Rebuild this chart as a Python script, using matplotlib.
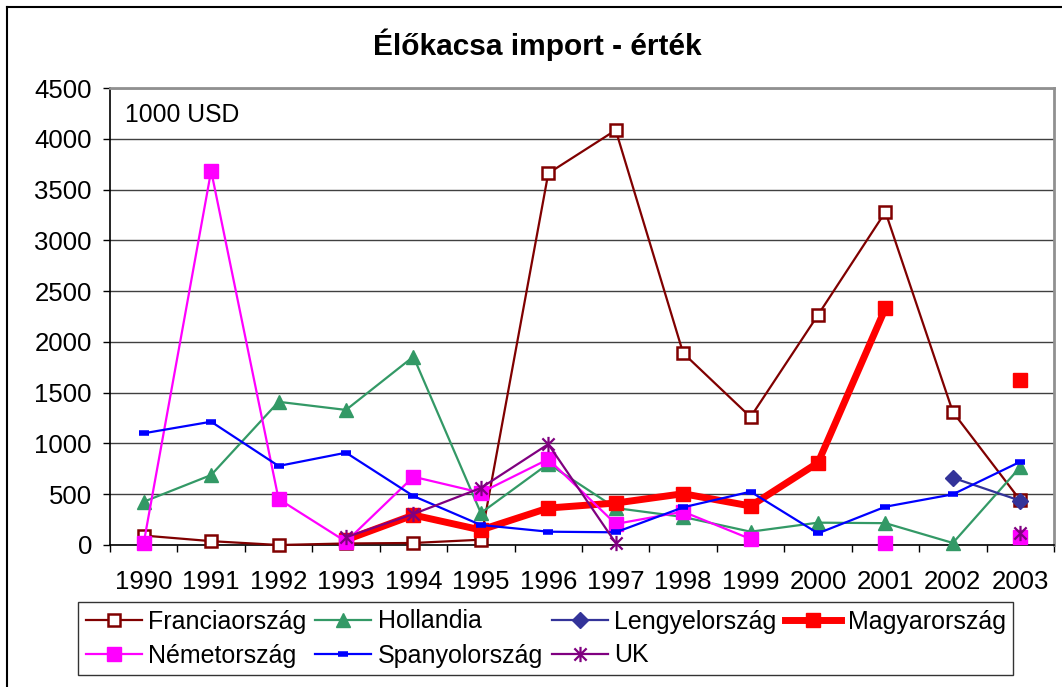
import matplotlib
matplotlib.use("Agg")
import matplotlib.pyplot as plt
import numpy as np
from matplotlib.path import Path
from matplotlib.lines import Line2D

plt.rcParams['font.family'] = ['Liberation Sans', 'DejaVu Sans']

nan = np.nan
years = ['1990', '1991', '1992', '1993', '1994', '1995', '1996',
         '1997', '1998', '1999', '2000', '2001', '2002', '2003']

# values in 1000 USD
francia = [93, 38, 0, 15, 20, 52, 3660, 4085, 1890, 1260, 2265, 3280, 1310, 440]
holland = [426, 689, 1410, 1330, 1855, 315, 800, 364, 276, 131, 220, 215, 20, 768]
lengyel = [nan, nan, nan, nan, nan, nan, nan, nan, nan, nan, nan, nan, 662, 436]
magyar = [nan, nan, nan, 50, 295, 148, 364, 413, 505, 384, 810, 2332, nan, 1624]
nemet = [20, 3684, 453, 33, 672, 515, 845, 207, 328, 59, nan, 15, nan, 78]
spanyol = [1100, 1214, 778, 909, 482, 197, 131, 125, 371, 525, 115, 377, 499, 820]
uk = [nan, nan, nan, 76, 305, 561, 993, 20, nan, nan, nan, nan, nan, 118]

x = np.arange(len(years))

# excel style asterisk: vertical line plus an X
star = Path([(0, -1), (0, 1), (-0.8, -0.8), (0.8, 0.8), (-0.8, 0.8), (0.8, -0.8)],
            [Path.MOVETO, Path.LINETO, Path.MOVETO, Path.LINETO, Path.MOVETO, Path.LINETO])

fig = plt.figure(figsize=(10.62, 6.87), dpi=100)
ax = fig.add_axes([110/1062, 1-545/687, 944/1062, 457/687])

# series drawn in excel order, later ones on top
h_fr, = ax.plot(x, francia, color='#800000', lw=1.6, marker='s', ms=9,
                mfc='white', mec='#800000', mew=1.8, label='Franciaország', zorder=3)
h_ho, = ax.plot(x, holland, color='#339966', lw=1.6, marker='^', ms=10,
                mec='#339966', mfc='#339966', label='Hollandia', zorder=4)
h_le, = ax.plot(x, lengyel, color='#333399', lw=1.6, marker='D', ms=8,
                mec='#333399', mfc='#333399', label='Lengyelország', zorder=5)
h_ma, = ax.plot(x, magyar, color='#FF0000', lw=5, marker='s', ms=10,
                mec='#FF0000', mfc='#FF0000', label='Magyarország', zorder=6)
h_ne, = ax.plot(x, nemet, color='#FF00FF', lw=1.6, marker='s', ms=10,
                mec='#FF00FF', mfc='#FF00FF', label='Németország', zorder=7)
h_sp, = ax.plot(x, spanyol, color='#0000FF', lw=1.6, marker='_', ms=7,
                mew=4, mec='#0000FF', label='Spanyolország', zorder=8)
h_uk, = ax.plot(x, uk, color='#800080', lw=1.6, marker=star, ms=11,
                mew=1.6, mec='#800080', mfc='none', label='UK', zorder=9)
for h in [h_fr, h_ho, h_le, h_ma, h_ne, h_sp, h_uk]:
    h.set_clip_on(False)

ax.set_xlim(-0.5, 13.5)
ax.set_ylim(0, 4500)
ax.set_yticks(np.arange(0, 4501, 500))
ax.yaxis.grid(True, color='#404040', lw=1)
ax.set_axisbelow(True)

ax.set_xticks(np.arange(-0.5, 14, 1))
ax.set_xticklabels([])
ax.set_xticks(x, minor=True)
ax.set_xticklabels(years, minor=True)
ax.tick_params(axis='x', which='major', direction='out', length=5, width=1)
ax.tick_params(axis='x', which='minor', length=0, pad=18, labelsize=18.5)
ax.tick_params(axis='y', direction='out', length=5, width=1, pad=8, labelsize=18.5)

for s in ['top', 'right']:
    ax.spines[s].set_color('#909090')
    ax.spines[s].set_linewidth(2)
for s in ['left', 'bottom']:
    ax.spines[s].set_color('black')
    ax.spines[s].set_linewidth(1.2)

ax.text(0.016, 0.94, '1000 USD', transform=ax.transAxes, fontsize=17.8,
        va='center', ha='left')

fig.text(0.506, 1-45/687, 'Élőkacsa import - érték', ha='center', va='center',
         fontsize=21.5, fontweight='bold')

# legend fills column by column, so order the handles to get the excel rows
handles = [h_fr, h_ne, h_ho, h_sp, h_le, h_uk, h_ma]
leg = fig.legend(handles=handles, labels=[h.get_label() for h in handles],
                 ncol=4, loc='upper left', bbox_to_anchor=(78/1062, 1-602/687),
                 fontsize=18, frameon=True, fancybox=False, handlelength=2.25,
                 columnspacing=0.35, handletextpad=0.25, borderaxespad=0,
                 labelspacing=0.4, borderpad=0.3)
leg.get_frame().set_edgecolor('black')
leg.get_frame().set_linewidth(1)

# outer chart border (only top and left are inside the picture)
fig.add_artist(Line2D([7/1062, 1], [1-7/687, 1-7/687], color='black', lw=1.5))
fig.add_artist(Line2D([7/1062, 7/1062], [0, 1-7/687], color='black', lw=1.5))

fig.savefig('out.png', dpi=100)
